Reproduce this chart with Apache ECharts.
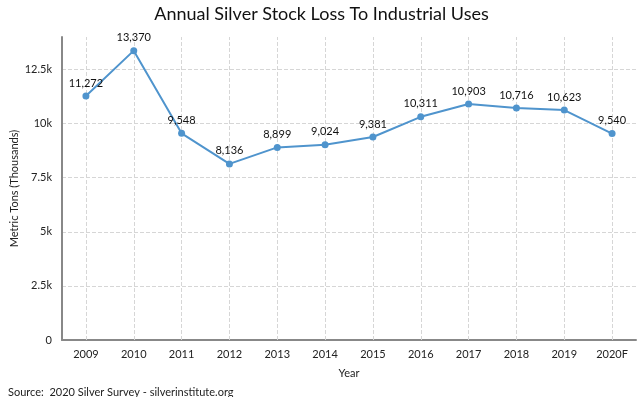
<!DOCTYPE html>
<html>
<head>
<meta charset="utf-8">
<script src="https://cdn.jsdelivr.net/npm/echarts@6/dist/echarts.min.js"></script>
<style>
  html, body { margin: 0; padding: 0; background: #fff; }
  #chart { width: 643px; height: 397px; }
</style>
</head>
<body>
<div id="chart"></div>
<script>
// values
var years = ['2009', '2010', '2011', '2012', '2013', '2014', '2015', '2016', '2017', '2018', '2019', '2020F'];
var stockLoss = [11272, 13370, 9548, 8136, 8899, 9024, 9381, 10311, 10903, 10716, 10623, 9540];

var fontName = 'Lato, "Open Sans", sans-serif';

function withCommas(v) {
    return String(v).replace(/\B(?=(\d{3})+(?!\d))/g, ',');
}

// vertical dashed grid lines run through the points, not between categories
var yearLines = years.map(function (y) { return { xAxis: y }; });

var chart = echarts.init(document.getElementById('chart'));
chart.setOption({
    animation: false,
    textStyle: { fontFamily: fontName },
    title: [
        {
            text: 'Annual Silver Stock Loss To Industrial Uses',
            left: 'center',
            top: 0,
            textStyle: { fontSize: 18, fontWeight: 'normal', color: '#111', fontFamily: fontName }
        },
        {
            text: 'Source:  2020 Silver Survey - silverinstitute.org',
            left: 3,
            top: 382,
            textStyle: { fontSize: 11, fontWeight: 'normal', color: '#222', fontFamily: fontName }
        }
    ],
    grid: { left: 62, right: 7, top: 37, bottom: 57, outerBoundsMode: 'none', containLabel: false },
    xAxis: {
        type: 'category',
        data: years,
        boundaryGap: true,
        name: 'Year',
        nameLocation: 'middle',
        nameGap: 28,
        nameTextStyle: { fontSize: 11, color: '#222' },
        axisLine: { lineStyle: { color: '#888', width: 2 } },
        axisTick: { show: false },
        axisLabel: { fontSize: 11, color: '#222', margin: 9 },
        splitLine: { show: false }
    },
    yAxis: {
        type: 'value',
        min: 0,
        max: 14000,
        interval: 2500,
        name: 'Metric Tons (Thousands)',
        nameLocation: 'middle',
        nameGap: 42,
        nameMoveOverlap: false,
        nameTextStyle: { fontSize: 11, color: '#222' },
        axisLine: { show: true, lineStyle: { color: '#888', width: 2 } },
        axisTick: { show: false },
        axisLabel: {
            fontSize: 11,
            color: '#222',
            margin: 10,
            showMaxLabel: false,
            formatter: function (v) { return v === 0 ? '0' : (v / 1000) + 'k'; }
        },
        splitLine: { show: true, showMaxLine: false, lineStyle: { color: '#d6d6d6', type: 'dashed' } }
    },
    series: [{
        type: 'line',
        data: stockLoss,
        symbol: 'circle',
        symbolSize: 7,
        z: 3,
        itemStyle: { color: '#4f94cd' },
        lineStyle: { color: '#4f94cd', width: 2 },
        label: {
            show: true,
            position: 'top',
            distance: 4,
            fontSize: 11,
            color: '#111',
            formatter: function (p) { return withCommas(p.value); }
        },
        markLine: {
            silent: true,
            symbol: 'none',
            label: { show: false },
            z: 1,
            lineStyle: { color: '#d6d6d6', type: 'dashed', width: 1 },
            data: yearLines
        }
    }]
});
</script>
</body>
</html>
